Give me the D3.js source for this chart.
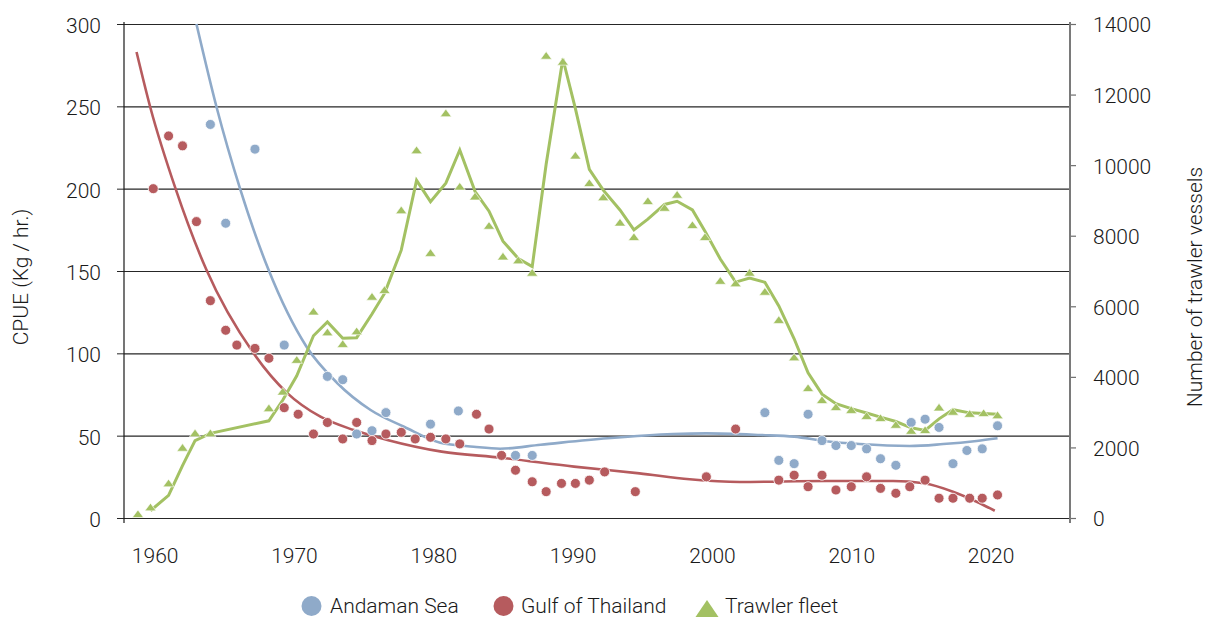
<!DOCTYPE html>
<html>
<head>
<meta charset="utf-8">
<script src="https://cdn.jsdelivr.net/npm/d3@7"></script>
<style>
  html, body { margin: 0; padding: 0; background: #ffffff; }
  svg text { font-family: Roboto, "Liberation Sans", Arial, sans-serif; font-weight: 300; fill: #1a1a1a; }
</style>
</head>
<body>
<svg id="chart" width="1210" height="619"></svg>
<script>
// ---- Data -------------------------------------------------------------
// Andaman Sea CPUE (kg/hr) survey points
const andamanYears = [1964.0, 1965.1, 1967.2, 1969.3, 1972.4, 1973.5, 1974.5, 1975.6, 1976.6, 1979.8,
  1981.8, 1985.9, 1987.1, 2003.8, 2004.8, 2005.9, 2006.9, 2007.9, 2008.9, 2010.0,
  2011.1, 2012.1, 2013.2, 2014.3, 2015.3, 2016.3, 2017.3, 2018.3, 2019.4, 2020.5];
const andamanCpue = [239, 179, 224, 105, 86, 84, 51, 53, 64, 57,
  65, 38, 38, 64, 35, 33, 63, 47, 44, 44,
  42, 36, 32, 58, 60, 55, 33, 41, 42, 56];

// Gulf of Thailand CPUE (kg/hr) survey points
const gulfYears = [1959.9, 1961.0, 1962.0, 1963.0, 1964.0, 1965.1, 1965.9, 1967.2, 1968.2, 1969.3,
  1970.3, 1971.4, 1972.4, 1973.5, 1974.5, 1975.6, 1976.6, 1977.7, 1978.7, 1979.8,
  1980.9, 1981.9, 1983.1, 1984.0, 1984.9, 1985.9, 1987.1, 1988.1, 1989.2, 1990.2,
  1991.2, 1992.3, 1994.5, 1999.6, 2001.7, 2004.8, 2005.9, 2006.9, 2007.9, 2008.9,
  2010.0, 2011.1, 2012.1, 2013.2, 2014.2, 2015.3, 2016.3, 2017.3, 2018.5, 2019.4, 2020.5];
const gulfCpue = [200, 232, 226, 180, 132, 114, 105, 103, 97, 67,
  63, 51, 58, 48, 58, 47, 51, 52, 48, 49,
  48, 45, 63, 54, 38, 29, 22, 16, 21, 21,
  23, 28, 16, 25, 54, 23, 26, 19, 26, 17,
  19, 25, 18, 15, 19, 23, 12, 12, 12, 12, 14];

// Trawler fleet size (number of vessels)
const fleetYears = [1958.8, 1959.7, 1961.0, 1962.0, 1962.9, 1964.0, 1968.2, 1969.2, 1970.2, 1971.4,
  1972.4, 1973.5, 1974.5, 1975.6, 1976.5, 1977.7, 1978.8, 1979.8, 1980.9, 1981.9,
  1983.0, 1984.0, 1985.0, 1986.1, 1987.1, 1988.1, 1989.3, 1990.2, 1991.2, 1992.2,
  1993.4, 1994.4, 1995.4, 1996.6, 1997.5, 1998.6, 1999.5, 2000.6, 2001.7, 2002.7,
  2003.8, 2004.8, 2005.9, 2006.9, 2007.9, 2008.9, 2010.0, 2011.1, 2012.1, 2013.2,
  2014.3, 2015.3, 2016.3, 2017.3, 2018.5, 2019.5, 2020.5];
const fleetCount = [110, 300, 980, 1990, 2400, 2400, 3110, 3580, 4480, 5850,
  5260, 4930, 5290, 6270, 6460, 8720, 10420, 7510, 11470, 9390,
  9110, 8280, 7410, 7300, 6950, 13100, 12930, 10270, 9490, 9090,
  8370, 7960, 8980, 8790, 9160, 8300, 7960, 6720, 6650, 6950,
  6410, 5610, 4550, 3680, 3340, 3140, 3060, 2890, 2830, 2640,
  2470, 2490, 3130, 3010, 2950, 2970, 2910];

// Fitted CPUE trend curves
const andamanTrendYears = [1963.0, 1964.46, 1966.13, 1968.16, 1970.9, 1973.1, 1975.5, 1977.9, 1980.5, 1982.9,
  1984.8, 1987.7, 1992.5, 1997.2, 1999.6, 2003.5, 2005.9, 2008.2, 2010.6, 2014.2,
  2016.6, 2019.0, 2020.5];
const andamanTrendCpue = [300, 249, 200, 151, 104, 82, 65.6, 55.4, 45.7, 43.3,
  42.1, 44.5, 48.4, 51, 51.4, 50.4, 49.4, 46.6, 44.9, 43.7,
  44.9, 46.8, 48.4];
const gulfTrendYears = [1958.7, 1959.7, 1961.5, 1963.7, 1967.1, 1969.5, 1971.9, 1974.3, 1976.7, 1980.6,
  1984.9, 1990.1, 1994.8, 1998.4, 2002.0, 2008.2, 2013.0, 2015.2, 2017.3, 2019.0, 2020.3];
const gulfTrendCpue = [283, 249, 200, 151, 100, 76, 61.5, 53.4, 47.4, 40.3,
  36.6, 31.2, 27.1, 23.5, 21.9, 22.5, 22.5, 21.1, 16, 9.9, 4.4];

// Axis ticks
const yearTicks = [1960, 1970, 1980, 1990, 2000, 2010, 2020];
const cpueTicks = [0, 50, 100, 150, 200, 250, 300];
const fleetTicks = [0, 2000, 4000, 6000, 8000, 10000, 12000, 14000];

// Legend entries
const legendLabels = ["Andaman Sea", "Gulf of Thailand", "Trawler fleet"];

// ---- Layout & style ---------------------------------------------------
const colors = { andaman: "#8faac9", gulf: "#b65b5e", fleet: "#a3c163" };
const plot = { left: 124, right: 1070, top: 24, bottom: 518 };
const fontSize = 21;

const svg = d3.select("#chart");

const x = d3.scaleLinear().domain([1957.8, 2025.7]).range([plot.left, plot.right]);
const yL = d3.scaleLinear().domain([0, 300]).range([plot.bottom, plot.top]);
const yR = d3.scaleLinear().domain([0, 14000]).range([plot.bottom, plot.top]);

// Horizontal grid lines at the CPUE ticks
svg.append("g")
  .attr("transform", `translate(${plot.left},0)`)
  .call(d3.axisLeft(yL).tickValues(cpueTicks).tickSize(-(plot.right - plot.left)).tickFormat(""))
  .call(g => g.select(".domain").remove())
  .call(g => g.selectAll("line").attr("stroke", "#262626").attr("stroke-width", 1.1));

// Left axis: ticks and labels
svg.append("g")
  .attr("transform", `translate(${plot.left},0)`)
  .call(d3.axisLeft(yL).tickValues(cpueTicks).tickSize(7).tickPadding(16))
  .call(g => g.select(".domain").remove())
  .call(g => g.selectAll("line").attr("stroke", "#262626"))
  .call(g => g.selectAll("text").attr("font-size", fontSize).attr("dy", "0.4em"));

svg.append("line")
  .attr("x1", plot.left).attr("x2", plot.left)
  .attr("y1", plot.top - 2).attr("y2", plot.bottom + 5)
  .attr("stroke", "#1a1a1a").attr("stroke-width", 1.2);

// Right axis: trawler counts
svg.append("g")
  .attr("transform", `translate(${plot.right},0)`)
  .call(d3.axisRight(yR).tickValues(fleetTicks).tickSize(6).tickPadding(17).tickFormat(d3.format("d")))
  .call(g => g.select(".domain").remove())
  .call(g => g.selectAll("line").attr("stroke", "#6e6e6e").attr("stroke-width", 1.2))
  .call(g => g.selectAll("text").attr("font-size", fontSize).attr("dy", "0.38em"));

svg.append("line")
  .attr("x1", plot.right).attr("x2", plot.right)
  .attr("y1", plot.top - 2).attr("y2", plot.bottom + 5)
  .attr("stroke", "#7a7a7a").attr("stroke-width", 2);

// Bottom axis: year labels only
svg.append("g")
  .attr("transform", `translate(0,${plot.bottom})`)
  .call(d3.axisBottom(x).tickValues(yearTicks).tickSize(0).tickPadding(30).tickFormat(d3.format("d")))
  .call(g => g.select(".domain").remove())
  .call(g => g.selectAll("text").attr("font-size", fontSize));

// Axis titles
svg.append("text")
  .attr("transform", "translate(28,277) rotate(-90)")
  .attr("text-anchor", "middle")
  .attr("font-size", fontSize)
  .text("CPUE (Kg / hr.)");

svg.append("text")
  .attr("transform", "translate(1202,287) rotate(-90)")
  .attr("text-anchor", "middle")
  .attr("font-size", fontSize)
  .text("Number of trawler vessels");

// ---- Series -----------------------------------------------------------
const andamanPts = andamanYears.map((yr, i) => ({ yr, v: andamanCpue[i] }));
const gulfPts = gulfYears.map((yr, i) => ({ yr, v: gulfCpue[i] }));
const fleetPts = fleetYears.map((yr, i) => ({ yr, v: fleetCount[i] }));
const andamanTrend = andamanTrendYears.map((yr, i) => ({ yr, v: andamanTrendCpue[i] }));
const gulfTrend = gulfTrendYears.map((yr, i) => ({ yr, v: gulfTrendCpue[i] }));

// Two-period moving average of the fleet size
const fleetAvg = fleetPts.slice(1).map((d, i) => ({ yr: d.yr, v: (d.v + fleetPts[i].v) / 2 }));

const lineL = d3.line().x(d => x(d.yr)).y(d => yL(d.v)).curve(d3.curveMonotoneX);
const lineR = d3.line().x(d => x(d.yr)).y(d => yR(d.v));

svg.append("path").datum(andamanTrend).attr("d", lineL)
  .attr("fill", "none").attr("stroke", colors.andaman).attr("stroke-width", 2.6);
svg.append("path").datum(gulfTrend).attr("d", lineL)
  .attr("fill", "none").attr("stroke", colors.gulf).attr("stroke-width", 2.6);
svg.append("path").datum(fleetAvg).attr("d", lineR)
  .attr("fill", "none").attr("stroke", colors.fleet).attr("stroke-width", 3)
  .attr("stroke-linejoin", "miter");

svg.append("g").selectAll("circle").data(andamanPts).join("circle")
  .attr("cx", d => x(d.yr)).attr("cy", d => yL(d.v)).attr("r", 5)
  .attr("fill", colors.andaman).attr("stroke", "#fff").attr("stroke-width", 0.8);

svg.append("g").selectAll("circle").data(gulfPts).join("circle")
  .attr("cx", d => x(d.yr)).attr("cy", d => yL(d.v)).attr("r", 5)
  .attr("fill", colors.gulf).attr("stroke", "#fff").attr("stroke-width", 0.8);

const tri = "M0,-4.2L5.6,3.4L-5.6,3.4Z";
svg.append("g").selectAll("path").data(fleetPts).join("path")
  .attr("d", tri)
  .attr("transform", d => `translate(${x(d.yr)},${yR(d.v)})`)
  .attr("fill", colors.fleet).attr("stroke", "#fff").attr("stroke-width", 0.6);

// ---- Legend -----------------------------------------------------------
const legend = svg.append("g");
const legendItems = [
  { label: legendLabels[0], color: colors.andaman, shape: "circle", cx: 311.5, tx: 330 },
  { label: legendLabels[1], color: colors.gulf, shape: "circle", cx: 503.5, tx: 521 },
  { label: legendLabels[2], color: colors.fleet, shape: "triangle", cx: 707, tx: 725 }
];
legendItems.forEach(it => {
  if (it.shape === "circle") {
    legend.append("circle").attr("cx", it.cx).attr("cy", 606).attr("r", 10).attr("fill", it.color);
  } else {
    legend.append("path").attr("d", "M0,-9L11.5,8L-11.5,8Z")
      .attr("transform", `translate(${it.cx},609)`).attr("fill", it.color);
  }
  legend.append("text").attr("x", it.tx).attr("y", 613)
    .attr("font-size", fontSize).text(it.label);
});
</script>
</body>
</html>
